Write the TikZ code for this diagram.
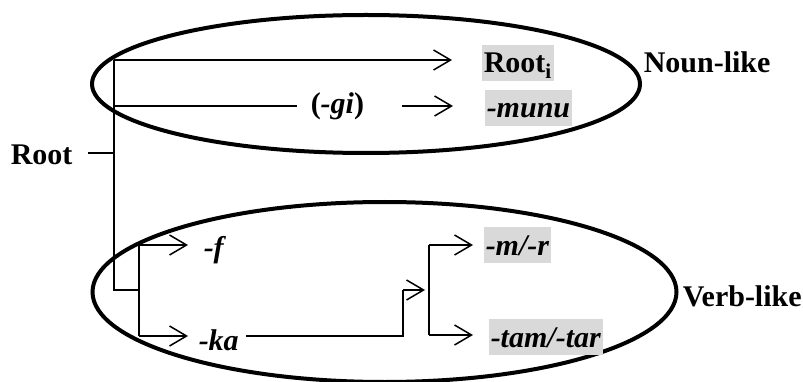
\documentclass[tikz,border=0pt]{standalone}
\usepackage{fontspec}
\setmainfont{Liberation Serif}
\usetikzlibrary{arrows.meta}

\tikzset{
    word/.style={font=\bfseries\fontsize{30}{32}\selectfont, inner sep=2pt, anchor=base west},
    hl/.style={word, fill=black!15, text height=26pt, text depth=6pt},
    arr/.style={-{Straight Barb[length=17pt,width=20pt]}, line width=1.5pt},
    ring/.style={line width=4pt}
}

\begin{document}
\begin{tikzpicture}[x=1pt,y=-1pt,line width=1.5pt]
    \useasboundingbox (0,0) rectangle (803,382);

    \draw [ring] (366,84) ellipse [x radius=274, y radius=69];
    \draw [ring] (384.5,292) ellipse [x radius=292, y radius=90];

    \node (root) [word] at (8,165) {Root};
    \node (rooti) [hl] at (481,73) {Root\textsubscript{i}};
    \node (gi) [word] at (308,114) {(\textit{-gi})};
    \node (munu) [hl] at (484,118) {\textit{-munu}};
    \node (noun) [word] at (641,73) {Noun-like};
    \node (f) [word] at (201,258) {\textit{-f}};
    \node (ka) [word] at (196,350) {\textit{-ka}};
    \node (mr) [hl] at (483,255) {\textit{-m/-r}};
    \node (tam) [hl] at (488,347) {\textit{-tam/-tar}};
    \node (verb) [word] at (680,306) {Verb-like};

    \coordinate (tick) at (88,153);
    \coordinate (top) at (114,60);
    \coordinate (mid) at (114,106);
    \coordinate (bot) at (114,290);
    \coordinate (fork) at (139,290);
    \coordinate (fup) at (139,245);
    \coordinate (kdown) at (139,336);
    \coordinate (kend) at (403,336);
    \coordinate (kbend) at (403,290);
    \coordinate (vfork) at (429,290);
    \coordinate (mup) at (429,245);
    \coordinate (tdown) at (429,335);

    \draw (tick) -- (tick -| top);
    \draw (top) -- (bot) -- (fork);
    \draw [arr, shorten >=29pt] (top) -- (top -| rooti.west);
    \draw [shorten >=11pt] (mid) -- (mid -| gi.west);
    \draw [arr, shorten <=35pt, shorten >=31pt] (mid -| gi.east) -- (mid -| munu.west);

    \draw (fup) -- (kdown);
    \draw [arr, shorten >=13pt] (fup) -- (fup -| f.west);
    \draw [arr, shorten >=8pt] (kdown) -- (kdown -| ka.west);
    \draw [shorten <=5pt] (kdown -| ka.east) -- (kend) -- (kbend);
    \draw [arr, shorten >=4pt] (kbend) -- (vfork);
    \draw (mup) -- (tdown);
    \draw [arr, shorten >=10pt] (mup) -- (mup -| mr.west);
    \draw [arr, shorten >=15pt] (tdown) -- (tdown -| tam.west);
\end{tikzpicture}
\end{document}
